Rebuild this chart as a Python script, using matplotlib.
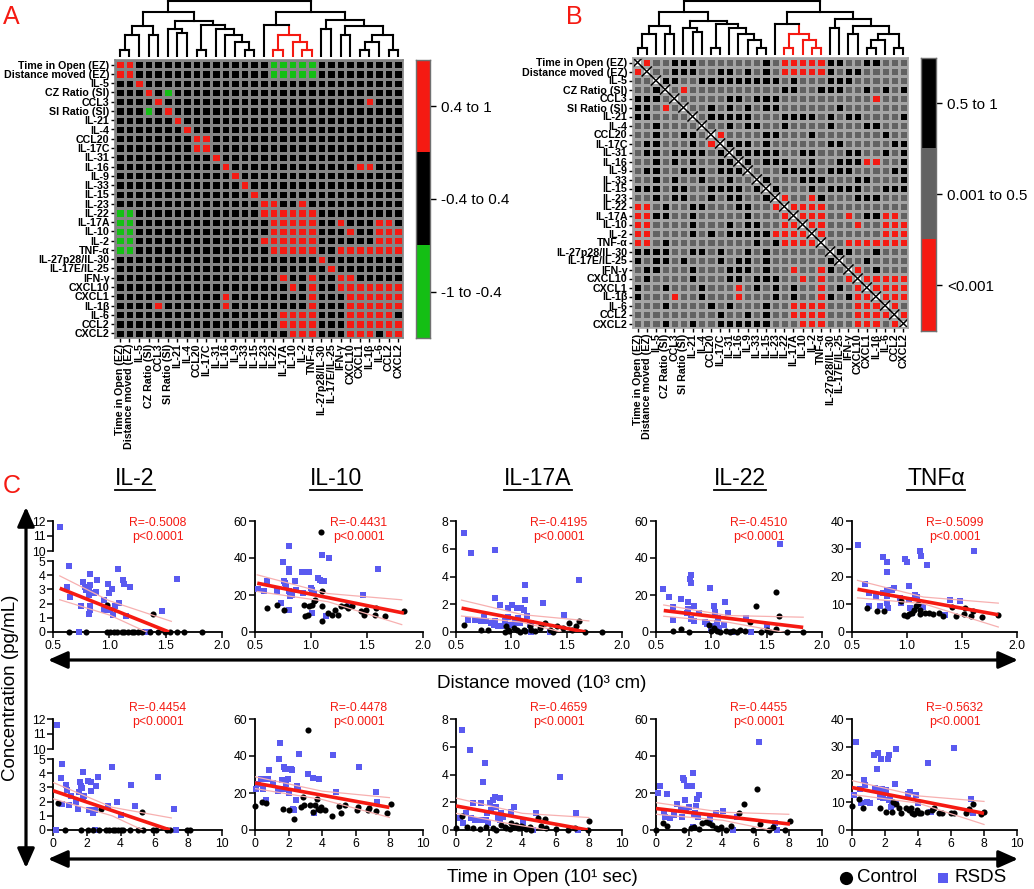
import matplotlib
matplotlib.use('Agg')
import matplotlib.pyplot as plt
import numpy as np
from matplotlib.colors import ListedColormap
from matplotlib.lines import Line2D
from matplotlib.patches import FancyArrowPatch

plt.rcParams['font.family'] = ['Liberation Sans', 'DejaVu Sans']

# ---------------- data ----------------
labels = ['Time in Open (EZ)', 'Distance moved (EZ)', 'IL-5', 'CZ Ratio (SI)', 'CCL3',
          'SI Ratio (SI)', 'IL-21', 'IL-4', 'CCL20', 'IL-17C', 'IL-31', 'IL-16', 'IL-9',
          'IL-33', 'IL-15', 'IL-23', 'IL-22', 'IL-17A', 'IL-10', 'IL-2', 'TNF-α',
          'IL-27p28/IL-30', 'IL-17E/IL-25', 'IFN-γ', 'CXCL10', 'CXCL1', 'IL-1β', 'IL-6',
          'CCL2', 'CXCL2']

# correlation classes (upper triangle, symmetric)
a_red = [(0, 1), (4, 26), (8, 9), (11, 25), (11, 26), (15, 16), (15, 19),
         (16, 17), (16, 18), (16, 19), (16, 20), (17, 18), (17, 19), (17, 20), (17, 23),
         (17, 27), (17, 28), (18, 19), (18, 20), (18, 24), (18, 27), (18, 28), (18, 29),
         (19, 20), (19, 27), (19, 28), (19, 29), (20, 23), (20, 24), (20, 25), (20, 26),
         (20, 27), (20, 28), (20, 29), (23, 24), (24, 25), (24, 26), (24, 27), (24, 28),
         (24, 29), (25, 26), (25, 27), (25, 28), (25, 29), (26, 27), (26, 28), (26, 29),
         (27, 28), (28, 29)]
a_green = [(0, 16), (0, 17), (0, 18), (0, 19), (0, 20), (1, 16), (1, 17), (1, 18),
           (1, 19), (1, 20), (3, 5)]

# p-value classes, lower triangle ('k' = 0.5 to 1, 'g' = 0.001 to 0.5)
b_lower = ["", "g", "gg", "ggk", "kkkg", "kkggg", "kkgggg", "ggkgggg", "ggkggkkg",
           "gkkgggkgg", "gkkgkkkkgk", "ggkgkgkggkk", "gkkggkkkgkkk", "ggkgkggkggkgg",
           "kkkgkkggkkkkgk", "ggkgkkggkgkkggk", "gggkggkkgggkkggg",
           "ggkkggkgggggkgggg", "ggggggkgggkgkkgggg", "ggggggkgkgkkkkkgggg",
           "gggkgggggggggkgkgggg", "kkkkggkkgkggkgkgggggg", "kgkkgkgggkgkkgkggggggk",
           "gkkgggkgggkkkgkggrggrkg", "gkggggkgggkkgkkkggrgrggr",
           "kggkgggkgggrgkgkgkggrgkgr", "kgggrggkgggrgggkgkggrkgkrr",
           "gggkggggkgkgggkggrrrrgggrrr", "gggggggggkggkgkggrrrrgggrrrr",
           "gggkggkggkkkkkkgggrrrgggrrrgr"]

# dendrogram merges: (left, right, height); new node ids start at 30
merges = [(0, 1, 22), (30, 2, 65), (3, 4, 65), (31, 32, 90), (6, 7, 70), (5, 34, 82),
          (8, 9, 22), (13, 14, 22), (12, 37, 45), (11, 38, 65), (10, 39, 82), (36, 40, 95),
          (35, 41, 105), (33, 42, 132), (16, 17, 22), (19, 20, 22), (18, 45, 45),
          (44, 46, 65), (15, 47, 95), (21, 22, 82), (23, 24, 65), (25, 26, 22), (51, 27, 45),
          (28, 29, 22), (52, 53, 65), (50, 54, 90), (49, 55, 110), (48, 56, 132), (43, 57, 165)]
red_nodes = [16, 17, 18, 19, 20, 44, 45, 46, 47]

cyto = ['IL-2', 'IL-10', 'IL-17A', 'IL-22', 'TNFα']
r_dist = ['-0.5008', '-0.4431', '-0.4195', '-0.4510', '-0.5099']
r_time = ['-0.4454', '-0.4478', '-0.4659', '-0.4455', '-0.5632']

# distance moved (10^3 cm) vs concentration
dist_ctrl_il2 = [(0.64, 0), (0.79, 0), (0.98, 0), (1.01, 0), (1.04, 0), (1.07, 0), (1.11, 0), (1.13, 0),
                 (1.17, 0), (1.20, 0), (1.22, 0), (1.25, 0), (1.29, 0), (1.36, 0), (1.43, 0), (1.49, 0),
                 (1.54, 0), (1.60, 0), (1.66, 0), (1.82, 0), (0.98, 1.9), (1.39, 1.28)]
dist_rsds_il2 = [(0.56, 11.6), (0.64, 4.65), (0.62, 3.2), (0.65, 2.45), (0.73, 0), (0.75, 1.85), (0.77, 3.5),
                 (0.78, 3.2), (0.79, 2.97), (0.83, 4.07), (0.83, 3.3), (0.82, 2.97), (0.82, 2.6), (0.83, 1.8),
                 (0.83, 1.57), (0.82, 1.3), (0.89, 3.67), (0.88, 2.85), (0.86, 2.73), (0.95, 2.27),
                 (0.95, 1.52), (0.99, 3.37), (1.02, 3.06), (1.00, 2.73), (1.08, 4.42), (1.05, 1.8),
                 (1.03, 1.2), (1.01, 1.57), (1.09, 2.03), (1.12, 3.67), (1.13, 3.4), (1.15, 1.1),
                 (1.18, 3.2), (1.30, 0), (1.35, 0), (1.47, 1.45), (1.60, 3.72)]
dist_ctrl_il10 = [(0.61, 12.9), (0.70, 14.4), (0.76, 11.7), (0.94, 14.7), (0.95, 8.4), (0.97, 9.3), (0.98, 13.8),
                  (1.01, 14.7), (1.03, 16.5), (1.04, 17.4), (1.09, 54.2), (1.10, 22.3), (1.10, 14.2), (1.10, 5.7),
                  (1.15, 10.2), (1.19, 9.3), (1.21, 12.0), (1.24, 9.3), (1.27, 13.8), (1.31, 13.8), (1.33, 12.9),
                  (1.37, 13.8), (1.45, 11.1), (1.47, 9.3), (1.49, 12.0), (1.57, 9.3), (1.58, 12.9), (1.66, 8.8),
                  (1.83, 11.1)]
dist_rsds_il10 = [(0.53, 23.4), (0.58, 21.9), (0.61, 27.8), (0.61, 26.8), (0.70, 21.9), (0.73, 15.6), (0.75, 38.1),
                  (0.76, 27.8), (0.77, 26.4), (0.78, 25.0), (0.80, 46.5), (0.80, 34.0), (0.80, 32.2), (0.80, 11.7),
                  (0.80, 21.9), (0.81, 19.2), (0.83, 20.1), (0.86, 27.8), (0.87, 22.5), (0.92, 32.7), (0.93, 21.0),
                  (0.97, 32.7), (0.98, 32.2), (1.00, 23.7), (1.01, 22.5), (1.01, 10.2), (1.03, 21.0), (1.06, 29.1),
                  (1.08, 28.2), (1.10, 41.7), (1.10, 27.3), (1.12, 27.3), (1.16, 39.9), (1.13, 8.4), (1.34, 14.7),
                  (1.60, 34.1), (1.46, 20.1)]
dist_ctrl_il17a = [(0.57, 0.52), (0.73, 0.17), (0.79, 0.12), (0.94, 0), (0.95, 0.4), (0.97, 0.17), (0.98, 0.05),
                   (1.02, 0.29), (1.05, 0.17), (1.08, 0), (1.11, 0.17), (1.12, 0.05), (1.17, 0.4), (1.18, 0.17),
                   (1.21, 0.05), (1.26, 0.29), (1.27, 0.52), (1.30, 0.64), (1.35, 0.17), (1.38, 0), (1.41, 0.4),
                   (1.47, 0.29), (1.52, 0.64), (1.55, 0.17), (1.58, 0.4), (1.61, 0.81), (1.67, 0), (1.82, 0)]
dist_rsds_il17a = [(0.57, 7.1), (0.64, 5.7), (0.85, 5.94), (0.85, 2.42), (0.90, 1.95), (0.61, 0.83), (0.67, 0.88),
                   (0.73, 0.8), (0.75, 1.1), (0.77, 0.76), (0.82, 0.64), (0.84, 0.52), (0.85, 0.76), (0.88, 0.45),
                   (0.91, 0.45), (0.94, 0.76), (0.97, 1.1), (0.97, 1.7), (1.01, 1.95), (1.03, 0.64), (1.05, 1.7),
                   (1.00, 0.52), (1.03, 0.76), (1.06, 1.0), (1.08, 0.64), (1.09, 1.71), (1.11, 1.59), (1.12, 2.3),
                   (1.12, 3.42), (1.14, 1.16), (1.17, 0.52), (1.18, 0.64), (1.18, 0), (1.29, 2.07), (1.35, 0),
                   (1.48, 1.19), (1.61, 3.78)]
dist_ctrl_il22 = [(0.65, 0.7), (0.73, 1.6), (0.80, 0), (0.98, 3.9), (1.02, 2.0), (1.05, 0.4), (1.08, 0), (1.13, 0.7),
                  (1.17, 0), (1.23, 0), (1.26, 0.9), (1.35, 5.2), (1.40, 13.8), (1.45, 0), (1.50, 1.2), (1.53, 0),
                  (1.58, 1.6), (1.58, 21.4), (1.61, 8.8), (1.68, 0), (1.83, 0), (1.00, 0.6), (1.20, 0.5), (1.30, 0.3)]
dist_rsds_il22 = [(0.56, 23.2), (0.62, 18.8), (0.65, 13.4), (0.65, 6.6), (0.73, 18.0), (0.79, 16.4), (0.79, 12.3),
                  (0.81, 28.4), (0.82, 30.7), (0.82, 26.6), (0.82, 7.0), (0.84, 14.1), (0.84, 6.1), (0.78, 10.2),
                  (0.89, 10.5), (0.94, 5.2), (0.96, 4.5), (0.99, 23.9), (1.02, 13.8), (1.03, 11.0), (1.02, 3.0),
                  (1.05, 5.0), (1.06, 7.5), (1.11, 3.9), (1.12, 16.4), (1.15, 10.5), (1.19, 0), (1.31, 7.5),
                  (1.36, 0), (1.50, 3.9), (1.62, 47.7), (1.00, 1.5), (1.07, 2.0)]
dist_ctrl_tnf = [(0.64, 8.5), (0.73, 7.7), (0.79, 7.4), (0.95, 11.2), (0.97, 6.2), (1.00, 5.6), (1.02, 6.6),
                 (1.05, 7.0), (1.06, 7.9), (1.08, 9.5), (1.12, 8.0), (1.16, 6.8), (1.20, 7.0), (1.24, 6.5),
                 (1.29, 7.0), (1.33, 5.8), (1.41, 9.1), (1.45, 5.8), (1.52, 6.5), (1.53, 8.5), (1.58, 5.8),
                 (1.60, 7.7), (1.68, 5.3), (1.83, 6.2), (1.10, 10.0), (1.12, 6.5)]
dist_rsds_tnf = [(0.55, 31.3), (0.62, 17.4), (0.65, 14.1), (0.65, 9.4), (0.72, 12.5), (0.75, 9.4), (0.78, 26.9),
                 (0.78, 13.9), (0.82, 25.1), (0.82, 21.6), (0.82, 15.1), (0.82, 12.8), (0.82, 10.3), (0.83, 8.7),
                 (0.86, 15.3), (0.88, 15.7), (0.94, 12.1), (0.95, 10.3), (0.98, 26.3), (1.00, 25.1), (1.02, 16.4),
                 (1.02, 11.5), (1.03, 8.5), (1.05, 6.8), (1.07, 13.3), (1.09, 12.5), (1.12, 29.1), (1.13, 27.5),
                 (1.15, 9.1), (1.18, 24.0), (1.35, 6.2), (1.39, 11.5), (1.61, 29.1), (1.48, 11.3)]

# time in open (10^1 sec) vs concentration
time_ctrl_il2 = [(0.32, 1.88), (0.72, 0), (1.65, 0), (2.05, 0), (2.39, 0), (2.74, 0), (3.14, 0), (3.34, 0),
                 (3.54, 0), (3.64, 0), (3.84, 0), (4.04, 0), (4.14, 0), (4.53, 0), (5.03, 0), (5.33, 0),
                 (5.92, 0), (6.12, 0), (6.72, 0), (6.92, 0), (7.91, 0), (8.11, 0), (5.29, 1.29), (2.84, 1.5)]
time_rsds_il2 = [(0.26, 11.6), (0.56, 4.67), (0.48, 3.64), (0.76, 3.17), (0.85, 2.82), (1.05, 2.4), (0.56, 1.83),
                 (0.95, 1.76), (1.39, 2.0), (1.45, 1.48), (1.55, 2.7), (1.61, 3.4), (1.65, 3.1), (1.71, 2.95),
                 (1.75, 4.1), (1.79, 2.23), (1.85, 2.4), (2.05, 3.47), (2.15, 1.41), (2.25, 3.4), (2.25, 2.77),
                 (2.30, 1.41), (2.39, 1.17), (2.50, 1.41), (2.54, 3.1), (2.64, 3.7), (2.50, 0), (3.24, 1.69),
                 (3.50, 4.41), (3.78, 2.0), (4.04, 1.06), (4.63, 3.17), (4.83, 1.71), (6.22, 3.76), (7.16, 1.46),
                 (7.28, 0), (0.16, 0)]
time_ctrl_il10 = [(0.02, 12.9), (0.42, 15.2), (0.66, 14.7), (1.65, 11.6), (2.05, 10.7), (2.35, 5.7), (2.74, 12.5),
                  (2.84, 17.9), (2.94, 13.4), (3.18, 54.1), (3.30, 13.4), (3.44, 9.9), (3.58, 13.4), (3.70, 17.0),
                  (3.74, 11.6), (3.84, 10.7), (3.94, 12.5), (4.14, 10.7), (4.57, 7.5), (4.99, 12.9), (5.13, 9.3),
                  (5.33, 13.4), (6.08, 10.7), (6.16, 12.5), (6.72, 10.7), (6.78, 11.8), (7.22, 10.4), (7.87, 9.0),
                  (8.07, 14.0)]
time_rsds_il10 = [(0.06, 22.4), (0.16, 25.0), (0.36, 27.8), (0.46, 22.4), (0.56, 27.8), (0.66, 16.0), (0.76, 27.8),
                  (0.85, 32.6), (1.05, 25.4), (1.35, 21.1), (1.45, 38.5), (1.51, 46.9), (1.59, 26.9), (1.65, 21.9),
                  (1.71, 34.0), (1.79, 33.1), (1.85, 25.1), (1.99, 27.8), (2.05, 20.0), (2.15, 33.1), (2.19, 32.2),
                  (2.25, 11.6), (2.35, 10.7), (2.45, 16.1), (2.50, 23.6), (2.54, 22.4), (2.64, 41.2), (3.18, 30.1),
                  (3.44, 28.0), (3.54, 9.0), (3.78, 27.4), (4.63, 40.3), (4.83, 20.6), (6.22, 34.0), (7.18, 20.6),
                  (7.28, 15.2)]
time_ctrl_il17a = [(0, 0.12), (0.34, 1.0), (0.68, 0.24), (1.03, 0.12), (1.43, 0.05), (1.83, 0.24), (2.23, 0.12),
                   (2.43, 0), (2.74, 0.36), (2.94, 0.24), (3.04, 0.12), (3.24, 0.05), (3.34, 0.53), (3.44, 0.24),
                   (3.64, 0.36), (3.74, 0.12), (3.84, 0.12), (3.94, 0.29), (4.04, 0.19), (4.20, 0.05), (4.44, 0.24),
                   (4.54, 0), (4.94, 0.84), (5.14, 0.29), (5.34, 0.77), (5.44, 0.12), (6.04, 0.05), (6.74, 0),
                   (7.14, 0.12), (7.94, 0), (8.04, 0.67)]
time_rsds_il17a = [(0.24, 0.84), (0.34, 7.2), (0.44, 0.5), (0.60, 1.2), (0.84, 5.8), (0.88, 0.85), (1.00, 1.92),
                   (1.13, 0.72), (1.43, 0.72), (1.53, 1.97), (1.63, 3.49), (1.73, 4.81), (1.79, 0.72), (1.87, 1.2),
                   (1.93, 0.5), (2.03, 1.92), (2.13, 1.44), (2.23, 2.16), (2.33, 2.36), (2.43, 1.63), (2.53, 0.84),
                   (2.63, 0.72), (2.73, 1.2), (2.64, 2.28), (2.84, 0.96), (3.32, 1.32), (3.52, 1.68), (4.04, 0.6),
                   (4.64, 0), (4.84, 1.2), (6.24, 3.85), (7.20, 1.2), (7.34, 0)]
time_ctrl_il22 = [(0, 0), (0.41, 3.9), (0.67, 2.1), (1.68, 0), (2.08, 0.9), (2.29, 1.8), (2.60, 0.4), (2.80, 3.6),
                  (3.00, 4.5), (3.20, 3.9), (3.40, 2.7), (3.61, 0.9), (3.71, 0.4), (3.91, 1.4), (4.22, 0),
                  (4.52, 2.1), (5.03, 9.0), (5.33, 14.3), (5.84, 0), (6.08, 21.9), (6.25, 3.2), (6.82, 0),
                  (7.02, 1.4), (7.76, 0), (8.07, 5.0)]
time_rsds_il22 = [(0.12, 20.1), (0.26, 23.6), (0.47, 9.9), (0.53, 7.2), (0.67, 19.3), (0.87, 6.3), (1.08, 8.1),
                  (1.28, 14.0), (1.48, 11.6), (1.54, 6.8), (1.62, 28.3), (1.68, 27.2), (1.74, 16.1), (1.78, 10.7),
                  (1.85, 23.6), (1.99, 12.5), (2.19, 23.6), (2.23, 30.8), (2.29, 8.1), (2.35, 9.0), (2.39, 12.9),
                  (2.49, 16.5), (2.55, 7.2), (2.23, 1.4), (2.60, 19.0), (3.25, 5.7), (3.61, 9.0), (4.02, 10.4),
                  (4.62, 0), (4.87, 6.8), (6.21, 47.8), (7.16, 3.9), (7.30, 0)]
time_ctrl_tnf = [(0, 8.6), (0.41, 11.3), (0.67, 8.1), (1.68, 7.8), (2.09, 6.6), (2.43, 6.6), (2.50, 10.1),
                 (2.64, 9.3), (2.84, 8.1), (2.94, 6.0), (3.25, 7.8), (3.45, 7.2), (3.55, 7.8), (3.65, 6.2),
                 (3.75, 5.7), (3.96, 7.2), (4.06, 6.2), (4.20, 6.2), (4.56, 6.6), (4.87, 7.2), (4.97, 7.8),
                 (5.27, 6.2), (5.48, 6.2), (5.98, 6.0), (6.19, 6.0), (6.90, 6.2), (7.10, 7.4), (7.36, 9.3),
                 (7.81, 5.7), (8.01, 6.6)]
time_rsds_tnf = [(0.26, 31.6), (0.14, 12.5), (0.51, 14.9), (0.55, 9.6), (0.71, 17.9), (0.81, 16.1), (0.91, 10.1),
                 (1.08, 9.8), (1.36, 27.2), (1.42, 15.3), (1.52, 22.1), (1.56, 27.7), (1.62, 14.3), (1.72, 12.0),
                 (1.76, 25.7), (1.80, 14.8), (1.90, 11.5), (2.09, 14.3), (2.17, 25.7), (2.23, 26.9), (2.23, 10.7),
                 (2.30, 11.5), (2.37, 8.4), (2.45, 9.0), (2.58, 16.7), (2.64, 29.3), (2.64, 9.8), (3.39, 12.9),
                 (3.51, 13.7), (3.85, 12.5), (3.99, 9.6), (4.62, 24.2), (4.80, 6.4), (6.19, 29.5), (7.24, 11.3),
                 (7.36, 6.2)]

# regression lines and 95% bands: (x list, y list)
dist_fit = [([0.56, 1.53], [3.08, 0.0]), ([0.52, 1.83], [26.4, 10.2]), ([0.55, 1.67], [1.72, 0.0]),
            ([0.57, 1.83], [11.6, 2.5]), ([0.55, 1.83], [15.4, 6.2])]
dist_upper = [([0.56, 1.0, 1.55], [3.95, 2.2, 0.75]), ([0.52, 1.15, 1.81], [30.9, 20.8, 17.4]),
              ([0.55, 1.1, 1.7], [2.3, 1.25, 0.8]), ([0.57, 1.15, 1.83], [14.6, 8.9, 8.0]),
              ([0.55, 1.15, 1.83], [18.6, 12.6, 10.4])]
dist_lower = [([0.56, 1.0, 1.33], [2.27, 1.2, 0.0]), ([0.52, 1.15, 1.81], [21.9, 16.4, 4.0]),
              ([0.55, 1.1, 1.45], [1.15, 0.7, 0.0]), ([0.57, 1.15, 1.83], [8.5, 5.3, -2.0]),
              ([0.55, 1.15, 1.83], [12.3, 10.2, 1.8])]
time_fit = [([0, 6.92], [2.77, 0.0]), ([0, 8.0], [25.4, 12.2]), ([0, 7.94], [1.73, 0.0]),
            ([0, 8.07], [11.6, 3.2]), ([0, 8.0], [15.3, 6.0])]
time_upper = [([0, 3.5, 7.0], [3.35, 1.6, 0.85]), ([0, 4.0, 8.0], [28.8, 21.0, 17.5]),
              ([0, 4.0, 8.0], [2.3, 1.2, 0.9]), ([0, 4.0, 8.0], [14.8, 9.6, 8.5]),
              ([0, 4.0, 8.0], [17.8, 12.3, 10.3])]
time_lower = [([0, 3.5, 5.3], [2.2, 1.0, 0.0]), ([0, 4.0, 8.0], [22.4, 16.5, 6.8]),
              ([0, 3.0, 5.5], [1.2, 0.5, 0.0]), ([0, 4.0, 8.0], [8.5, 5.3, -2.0]),
              ([0, 4.0, 8.0], [12.8, 9.7, 2.0])]

dist_ctrl = [dist_ctrl_il2, dist_ctrl_il10, dist_ctrl_il17a, dist_ctrl_il22, dist_ctrl_tnf]
dist_rsds = [dist_rsds_il2, dist_rsds_il10, dist_rsds_il17a, dist_rsds_il22, dist_rsds_tnf]
time_ctrl = [time_ctrl_il2, time_ctrl_il10, time_ctrl_il17a, time_ctrl_il22, time_ctrl_tnf]
time_rsds = [time_rsds_il2, time_rsds_il10, time_rsds_il17a, time_rsds_il22, time_rsds_tnf]

y_limits = [(0, 5), (0, 60), (0, 8), (0, 60), (0, 40)]
y_ticks = [[0, 1, 2, 3, 4, 5], [0, 20, 40, 60], [0, 2, 4, 6, 8], [0, 20, 40, 60], [0, 10, 20, 30, 40]]

# ---------------- styles ----------------
RED = '#f51a12'
GREEN = '#14bf14'
GREY = '#626262'
BLUE = '#5a5af0'
W, H = 1034, 889

fig = plt.figure(figsize=(W / 100, H / 100), dpi=100)


def px_axes(x0, y0, x1, y1):
    return fig.add_axes([x0 / W, 1 - y1 / H, (x1 - x0) / W, (y1 - y0) / H])


def fx(x):
    return x / W


def fy(y):
    return 1 - y / H


n = len(labels)

# matrix A
mat_a = np.ones((n, n), dtype=int)
for i in range(n):
    mat_a[i, i] = 2
for i, j in a_red:
    mat_a[i, j] = mat_a[j, i] = 2
for i, j in a_green:
    mat_a[i, j] = mat_a[j, i] = 0

# matrix B
mat_b = np.ones((n, n), dtype=int)
for i, row in enumerate(b_lower):
    for j, ch in enumerate(row[:i]):
        v = 2 if ch == 'k' else 1
        mat_b[i, j] = mat_b[j, i] = v
for i, j in a_red + a_green:
    mat_b[i, j] = mat_b[j, i] = 0
for i in range(n):
    mat_b[i, i] = 3


def draw_matrix(rect, codes, colors, grid):
    ax = px_axes(*rect)
    ax.pcolormesh(np.arange(n + 1), np.arange(n + 1), codes, cmap=ListedColormap(colors),
                  vmin=-0.5, vmax=len(colors) - 0.5, edgecolors=grid, linewidth=1.0)
    ax.set_xlim(0, n)
    ax.set_ylim(n, 0)
    ax.set_xticks(np.arange(n) + 0.5)
    ax.set_yticks(np.arange(n) + 0.5)
    ax.set_xticklabels(labels, rotation=90, fontsize=7.7, fontweight='bold')
    ax.set_yticklabels(labels, fontsize=7.7, fontweight='bold')
    ax.tick_params(length=3, width=1, pad=1)
    for s in ax.spines.values():
        s.set_color(grid)
        s.set_linewidth(1.2)
    return ax


def draw_dendro(rect):
    ax = px_axes(*rect)
    pos = {i: i + 0.5 for i in range(n)}
    hgt = {i: 0 for i in range(n)}
    col = {i: (RED if i in red_nodes else 'black') for i in range(n)}
    for k, (a, b, h) in enumerate(merges):
        nid = n + k
        c = RED if nid in red_nodes else 'black'
        ax.plot([pos[a], pos[a]], [hgt[a], h], color=col[a], lw=1.5)
        ax.plot([pos[b], pos[b]], [hgt[b], h], color=col[b], lw=1.5)
        ax.plot([pos[a], pos[b]], [h, h], color=c, lw=1.5)
        pos[nid] = (pos[a] + pos[b]) / 2
        hgt[nid] = h
        col[nid] = c
    ax.set_xlim(0, n)
    ax.set_ylim(0, 168)
    ax.axis('off')


def draw_cbar(rect, colors, texts):
    ax = px_axes(*rect)
    ax.imshow(np.arange(3).reshape(3, 1), cmap=ListedColormap(colors), aspect='auto',
              interpolation='nearest')
    ax.set_xticks([])
    ax.yaxis.tick_right()
    ax.set_yticks([0, 1, 2])
    ax.set_yticklabels(texts, fontsize=11)
    ax.tick_params(axis='y', length=4, width=1, pad=4)
    for s in ax.spines.values():
        s.set_color('#707070')
        s.set_linewidth(1)


# ---- panel A ----
draw_matrix((115, 60, 403, 338), mat_a, [GREEN, 'black', RED], '#858585')
draw_dendro((115, 0, 403, 57))
draw_cbar((416, 60, 430, 338), [RED, 'black', GREEN], ['0.4 to 1', '-0.4 to 0.4', '-1 to -0.4'])

# ---- panel B ----
axb = draw_matrix((633, 58, 908, 328), mat_b, [RED, GREY, 'black', 'white'], '#a5a5a5')
for i in range(n):
    axb.plot([i, i + 1], [i, i + 1], color='black', lw=1.1)
    axb.plot([i, i + 1], [i + 1, i], color='black', lw=1.1)
draw_dendro((633, 0, 908, 55))
draw_cbar((921, 58, 936, 331), ['black', GREY, RED], ['0.5 to 1', '0.001 to 0.5', '<0.001'])

fig.text(fx(3), fy(17), 'A', color=RED, fontsize=18, va='center')
fig.text(fx(566), fy(17), 'B', color=RED, fontsize=18, va='center')
fig.text(fx(3), fy(486), 'C', color=RED, fontsize=18, va='center')

# ---- panel C ----
cols_px = [(53, 222), (255, 423), (456, 622), (656, 822), (852, 1017)]
rows_px = [(521, 632), (719, 830)]
title_cx = [135, 336, 538, 740, 936]


def style(ax):
    for s in ['top', 'right']:
        ax.spines[s].set_visible(False)
    for s in ['left', 'bottom']:
        ax.spines[s].set_linewidth(1.3)
    ax.tick_params(length=4, width=1.1, labelsize=8.8, pad=1.5)


def scatter_panel(k, r, ctrl, rsds, fit, upper, lower, xlim, xticks, xlabels, rtext):
    x0, x1 = cols_px[k]
    y0, y1 = rows_px[r]
    broken = k == 0
    ax = px_axes(x0, y0 + 40 if broken else y0, x1, y1)
    axes = [ax]
    if broken:
        axu = px_axes(x0, y0, x1, y0 + 30)
        axu.set_xlim(*xlim)
        axu.set_ylim(10, 12)
        axu.set_yticks([10, 11, 12])
        axu.set_xticks([])
        axu.spines['bottom'].set_visible(False)
        axu.patch.set_visible(False)
        style(axu)
        axes.append(axu)
    for a in axes:
        lo, hi = a.get_ylim() if a is not ax else y_limits[k]
        bx = [p[0] for p in rsds if lo <= p[1] <= hi]
        by = [p[1] for p in rsds if lo <= p[1] <= hi]
        cx = [p[0] for p in ctrl if lo <= p[1] <= hi]
        cy = [p[1] for p in ctrl if lo <= p[1] <= hi]
        a.plot(bx, by, 's', color=BLUE, ms=4.6, mew=0, clip_on=False, zorder=3)
        a.plot(cx, cy, 'o', color='black', ms=4.4, mew=0, clip_on=False, zorder=4)
    ax.plot(upper[0], upper[1], color='#f7b0b0', lw=0.9, zorder=4)
    ax.plot(lower[0], lower[1], color='#f7b0b0', lw=0.9, zorder=4)
    ax.plot(fit[0], fit[1], color=RED, lw=2.6, zorder=5, solid_capstyle='butt')
    ax.set_xlim(*xlim)
    ax.set_ylim(*y_limits[k])
    ax.set_yticks(y_ticks[k])
    ax.set_xticks(xticks)
    ax.set_xticklabels(xlabels)
    style(ax)
    ty = 523 if r == 0 else 708
    cx = (x0 + x1) / 2 + 20
    fig.text(fx(cx), fy(ty), 'R=' + rtext, color=RED, fontsize=8.8, ha='center', va='center')
    fig.text(fx(cx), fy(ty + 14), 'p<0.0001', color=RED, fontsize=8.8, ha='center', va='center')


for k in range(5):
    scatter_panel(k, 0, dist_ctrl[k], dist_rsds[k], dist_fit[k], dist_upper[k], dist_lower[k],
                  (0.5, 2.0), [0.5, 1.0, 1.5, 2.0], ['0.5', '1.0', '1.5', '2.0'], r_dist[k])
    scatter_panel(k, 1, time_ctrl[k], time_rsds[k], time_fit[k], time_upper[k], time_lower[k],
                  (0, 10), [0, 2, 4, 6, 8, 10], ['0', '2', '4', '6', '8', '10'], r_time[k])

titles = []
for k in range(5):
    titles.append(fig.text(fx(title_cx[k]), fy(479), cyto[k], fontsize=16.5, ha='center', va='center'))


# arrows
def arrow(p, q):
    fig.add_artist(FancyArrowPatch((fx(p[0]), fy(p[1])), (fx(q[0]), fy(q[1])),
                                   transform=fig.transFigure, arrowstyle='<|-|>,head_length=0.9,head_width=0.4',
                                   mutation_scale=13, lw=2.3, color='black', shrinkA=0, shrinkB=0))


arrow((48, 660), (1018, 660))
arrow((48, 859), (1018, 859))
arrow((26, 507), (26, 868))

fig.text(fx(542), fy(683), 'Distance moved (10³ cm)', fontsize=13.5, ha='center', va='center')
fig.text(fx(542), fy(878), 'Time in Open (10¹ sec)', fontsize=13.5, ha='center', va='center')
fig.text(fx(11), fy(688), 'Concentration (pg/mL)', fontsize=13.5, ha='center', va='center', rotation=90)

# legend
fig.add_artist(Line2D([fx(846)], [fy(878)], marker='o', ms=9.5, color='black', mew=0,
                      transform=fig.transFigure))
fig.text(fx(857), fy(878), 'Control', fontsize=13.5, ha='left', va='center')
fig.add_artist(Line2D([fx(943)], [fy(878)], marker='s', ms=7.2, color=BLUE, mew=0,
                      transform=fig.transFigure))
fig.text(fx(954), fy(878), 'RSDS', fontsize=13.5, ha='left', va='center')

# underline the cytokine titles
fig.canvas.draw()
rend = fig.canvas.get_renderer()
for t in titles:
    bb = t.get_window_extent(rend)
    fig.add_artist(Line2D([bb.x0 / W, bb.x1 / W], [fy(490), fy(490)], color='black', lw=1.3,
                          transform=fig.transFigure))

fig.savefig('out.png', dpi=100)
